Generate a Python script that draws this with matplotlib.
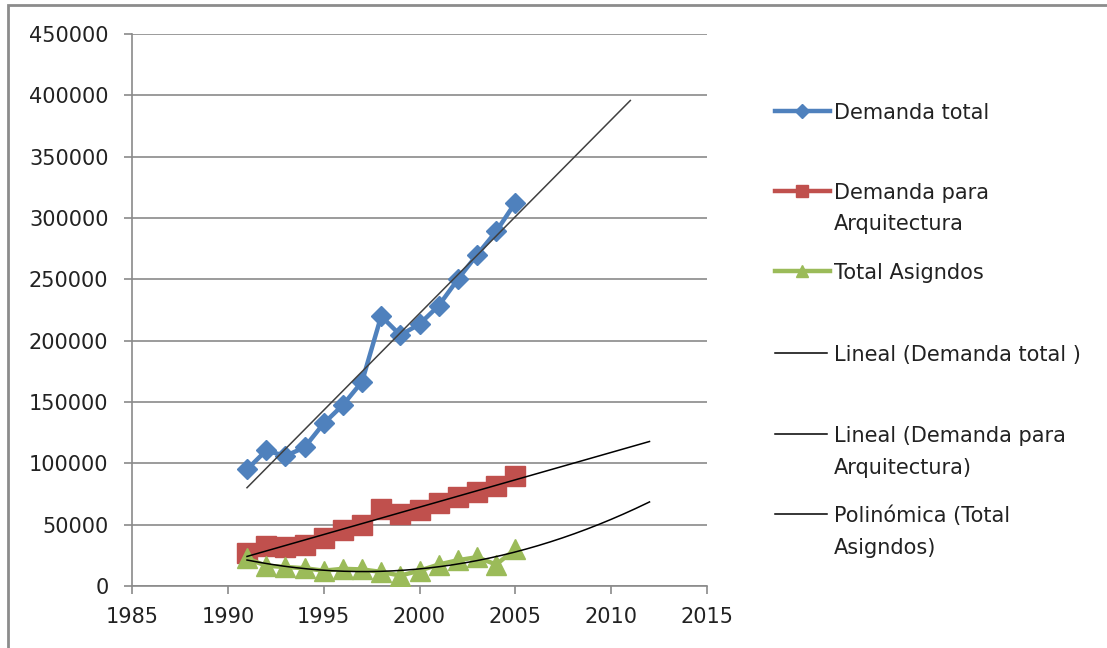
import numpy as np
import matplotlib
matplotlib.use("Agg")
import matplotlib.pyplot as plt
from matplotlib.lines import Line2D
from matplotlib.patches import Rectangle

plt.rcParams["font.family"] = ["DejaVu Sans"]

YEARS = list(range(1991, 2006))
DEMANDA_TOTAL = [95000, 110500, 106000, 113000, 132500, 147500, 166500, 220000,
                 204500, 213500, 228500, 250000, 270000, 289000, 312500]
DEMANDA_ARQ = [26500, 32500, 31500, 33500, 39000, 45500, 49500, 63000,
               58500, 62000, 67500, 72500, 77000, 81500, 90000]
TOTAL_ASIG = [22500, 16500, 15500, 14500, 12500, 14000, 13500, 11500,
              8500, 12500, 17500, 21000, 23500, 17500, 30000]

# trendline: (degree, last forecast year)
TREND_DEG = {"total": 1, "arq": 1, "asig": 2}
TREND_END = {"total": 2011, "arq": 2012, "asig": 2012}

BLUE = "#4F81BD"
RED = "#C0504D"
GREEN = "#9BBB59"
GRID = "#8a8a8a"

W, H = 1107, 648
fig = plt.figure(figsize=(W / 100, H / 100), dpi=100)
ax = fig.add_axes([132 / W, 1 - 586 / H, (707 - 132) / W, (586 - 34) / H])

x = np.array(YEARS, dtype=float)
ax.plot(x, DEMANDA_TOTAL, color=BLUE, lw=3.2, marker="D", ms=10.5, zorder=3)
ax.plot(x, DEMANDA_ARQ, color=RED, lw=3.2, marker="s", ms=15, zorder=3)
ax.plot(x, TOTAL_ASIG, color=GREEN, lw=3.2, marker="^", ms=14, zorder=3)

for key, ys in (("total", DEMANDA_TOTAL), ("arq", DEMANDA_ARQ), ("asig", TOTAL_ASIG)):
    coef = np.polyfit(x, ys, TREND_DEG[key])
    xt = np.linspace(YEARS[0], TREND_END[key], 200)
    color = "#404040" if key == "total" else "black"
    ax.plot(xt, np.polyval(coef, xt), color=color, lw=1.1, zorder=4)

ax.set_xlim(1985, 2015)
ax.set_ylim(0, 450000)
ax.set_xticks(range(1985, 2016, 5))
ax.set_yticks(range(0, 450001, 50000))
ax.yaxis.grid(True, color=GRID, lw=1.2)
ax.set_axisbelow(True)
for s in ("top", "right"):
    ax.spines[s].set_visible(False)
for s in ("left", "bottom"):
    ax.spines[s].set_color(GRID)
    ax.spines[s].set_linewidth(1.2)
ax.tick_params(axis="y", length=6, width=1.2, color=GRID, pad=11, labelsize=15, labelcolor="#222222")
ax.tick_params(axis="x", length=6, width=1.2, color=GRID, pad=9, labelsize=15, labelcolor="#222222")


def fx(px):
    return px / W


def fy(py):
    return 1 - py / H


# legend, drawn entry by entry: (handle y in px, text lines, marker style)
legend_rows = [
    (111, ["Demanda total"], dict(color=BLUE, marker="D", ms=7)),
    (191, ["Demanda para", "Arquitectura"], dict(color=RED, marker="s", ms=9)),
    (271, ["Total Asigndos"], dict(color=GREEN, marker="^", ms=9)),
    (353, ["Lineal (Demanda total )"], None),
    (434, ["Lineal (Demanda para", "Arquitectura)"], None),
    (514, ["Polinómica (Total", "Asigndos)"], None),
]
for yc, lines, style in legend_rows:
    if style is not None:
        fig.add_artist(Line2D([fx(775), fx(830)], [fy(yc), fy(yc)], lw=3.2,
                              color=style["color"]))
        fig.add_artist(Line2D([fx(802)], [fy(yc)], lw=0, **style))
    else:
        fig.add_artist(Line2D([fx(775), fx(827)], [fy(yc), fy(yc)], color="black", lw=1.1))
    for i, line in enumerate(lines):
        fig.text(fx(834), fy(yc + 8 + 31.5 * i), line, fontsize=15, color="#222222",
                 va="baseline", ha="left")

fig.add_artist(Rectangle((fx(8), fy(H + 10)), 1.2, fy(5) - fy(H + 10),
                         fill=False, edgecolor="#8c8c8c", lw=2))

fig.savefig("out.png", dpi=100)
